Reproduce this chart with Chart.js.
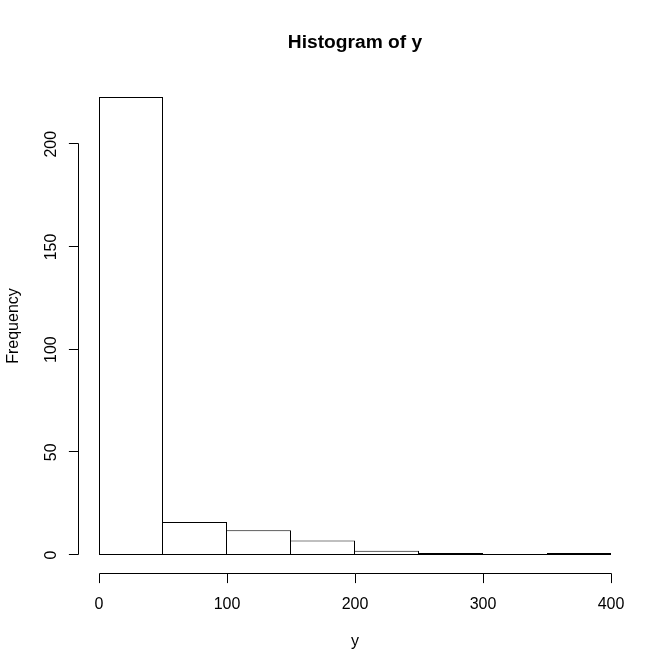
<!DOCTYPE html>
<html>
<head>
<meta charset="utf-8">
<script src="https://cdn.jsdelivr.net/npm/chart.js@4"></script>
<style>
html,body{margin:0;padding:0;background:#ffffff;}
#wrap{width:672px;height:672px;}
</style>
</head>
<body>
<div id="wrap"><canvas id="c" width="672" height="672"></canvas></div>
<script>
// ---- data ----
const binEdges = [0, 50, 100, 150, 200, 250, 300, 350, 400];
const counts = [223, 16, 12, 7, 2, 1, 0, 1];
const xTicks = [0, 100, 200, 300, 400];
const yTicks = [0, 50, 100, 150, 200];
const titleText = 'Histogram of y';
const xLabel = 'y';
const yLabel = 'Frequency';

// R-style 4% axis extension
const xLo = binEdges[0], xHi = binEdges[binEdges.length - 1];
const xPad = (xHi - xLo) * 0.04;
const yMaxData = Math.max(...counts);
const yPad = yMaxData * 0.04;

const FONT = '"Liberation Sans", Arial, Helvetica, sans-serif';

// each shared edge is drawn once, by the taller neighbour
function edgeWidths(i) {
  const n = counts.length;
  const left = (i === 0 || counts[i] > counts[i - 1]) ? 1 : 0;
  const right = (i === n - 1 || counts[i] >= counts[i + 1]) ? 1 : 0;
  return {top: 1, bottom: 1, left: left, right: right};
}

const rAxes = {
  id: 'rAxes',
  afterDraw(chart) {
    const {ctx, chartArea: a, scales: {x, y}} = chart;
    ctx.save();
    ctx.strokeStyle = '#000';
    ctx.fillStyle = '#000';
    ctx.lineWidth = 1;

    // baseline of histogram (covers zero-count bins)
    const by = Math.round(y.getPixelForValue(0)) - 0.5;
    ctx.beginPath();
    ctx.moveTo(x.getPixelForValue(xLo), by);
    ctx.lineTo(x.getPixelForValue(xHi), by);
    ctx.stroke();

    // x axis
    const ax = Math.round(a.bottom) + 0.5;
    const tl = 9.6;
    ctx.beginPath();
    ctx.moveTo(Math.round(x.getPixelForValue(xTicks[0])) + 0.5, ax);
    ctx.lineTo(Math.round(x.getPixelForValue(xTicks[xTicks.length - 1])) + 0.5, ax);
    xTicks.forEach(v => {
      const p = Math.round(x.getPixelForValue(v)) + 0.5;
      ctx.moveTo(p, ax);
      ctx.lineTo(p, ax + tl);
    });
    ctx.stroke();

    // y axis
    const ay = Math.round(a.left) - 0.5;
    ctx.beginPath();
    ctx.moveTo(ay, Math.round(y.getPixelForValue(yTicks[0])) - 0.5);
    ctx.lineTo(ay, Math.round(y.getPixelForValue(yTicks[yTicks.length - 1])) - 0.5);
    yTicks.forEach(v => {
      const p = Math.round(y.getPixelForValue(v)) - 0.5;
      ctx.moveTo(ay, p);
      ctx.lineTo(ay - tl, p);
    });
    ctx.stroke();

    // x tick labels
    ctx.font = '16px ' + FONT;
    ctx.textAlign = 'center';
    ctx.textBaseline = 'alphabetic';
    xTicks.forEach(v => {
      ctx.fillText(String(v), x.getPixelForValue(v), a.bottom + 36);
    });

    // y tick labels (rotated)
    yTicks.forEach(v => {
      ctx.save();
      ctx.translate(a.left - 22.7, y.getPixelForValue(v));
      ctx.rotate(-Math.PI / 2);
      ctx.fillText(String(v), 0, 0);
      ctx.restore();
    });

    // axis titles
    ctx.fillText(xLabel, (a.left + a.right) / 2, a.bottom + 72.5);
    ctx.save();
    ctx.translate(a.left - 61, (a.top + a.bottom) / 2);
    ctx.rotate(-Math.PI / 2);
    ctx.fillText(yLabel, 0, 0);
    ctx.restore();

    // main title
    ctx.font = 'bold 19.2px ' + FONT;
    ctx.fillText(titleText, (a.left + a.right) / 2, a.top - 30.7);

    ctx.restore();
  }
};

const barData = counts.map((c, i) => ({x: (binEdges[i] + binEdges[i + 1]) / 2, y: c}));

new Chart(document.getElementById('c'), {
  type: 'bar',
  data: {
    datasets: [{
      data: barData,
      backgroundColor: '#ffffff',
      borderColor: '#000000',
      borderWidth: (c) => edgeWidths(c.dataIndex),
      borderSkipped: false,
      inflateAmount: 0,
      barPercentage: 1.0,
      categoryPercentage: 1.0
    }]
  },
  options: {
    responsive: false,
    devicePixelRatio: 1,
    animation: false,
    layout: {padding: {left: 78.52, right: 40.52, top: 78.7, bottom: 98.7}},
    plugins: {legend: {display: false}, tooltip: {enabled: false}, title: {display: false}},
    scales: {
      x: {
        type: 'linear', display: false, offset: false,
        min: xLo - xPad, max: xHi + xPad,
        ticks: {stepSize: 100},
        afterBuildTicks: s => { s.ticks = xTicks.map(v => ({value: v})); }
      },
      y: {
        type: 'linear', display: false,
        min: -yPad, max: yMaxData + yPad,
        afterBuildTicks: s => { s.ticks = yTicks.map(v => ({value: v})); }
      }
    }
  },
  plugins: [rAxes]
});
</script>
</body>
</html>
